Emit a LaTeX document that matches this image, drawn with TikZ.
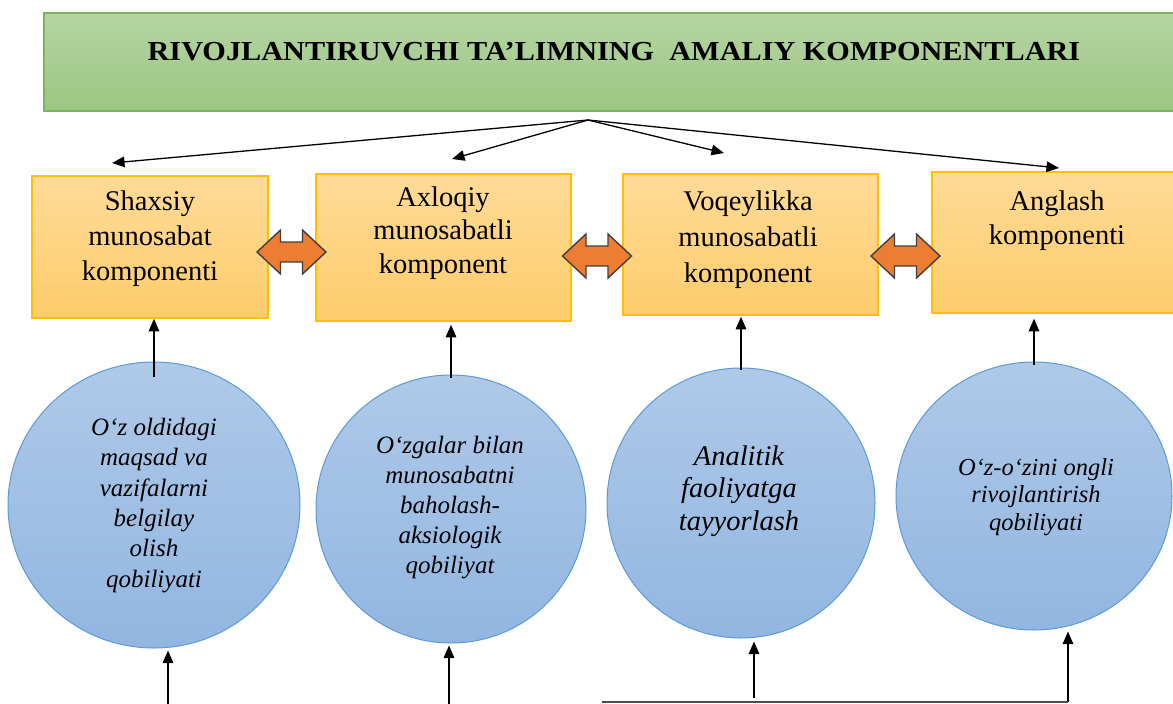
\documentclass[tikz,border=0pt]{standalone}
\usepackage{fontspec}
\usepackage{graphicx}
\setmainfont{Liberation Serif}
\usetikzlibrary{arrows.meta,shapes.geometric}
\definecolor{titletop}{HTML}{B5D5A3}
\definecolor{titlebot}{HTML}{9BC682}
\definecolor{titleline}{HTML}{7DB55C}
\definecolor{boxtop}{HTML}{FFDB98}
\definecolor{boxbot}{HTML}{FDCC6B}
\definecolor{boxline}{HTML}{FFC000}
\definecolor{elltop}{HTML}{AFC9E8}
\definecolor{ellbot}{HTML}{92B6E1}
\definecolor{ellline}{HTML}{5B9BD5}
\definecolor{dblfill}{HTML}{ED7D31}
\definecolor{dblline}{HTML}{404040}
\begin{document}
\begin{tikzpicture}[x=1pt,y=-1pt,
  titlebox/.style={draw=titleline, line width=1.5pt, top color=titletop, bottom color=titlebot, inner sep=0pt},
  compbox/.style={draw=boxline, line width=1.5pt, top color=boxtop, bottom color=boxbot, inner sep=0pt},
  circ/.style={ellipse, draw=ellline, line width=1pt, top color=elltop, bottom color=ellbot, inner sep=0pt},
  boxtext/.style={align=center, inner sep=0pt, anchor=base, font=\fontsize{28.5}{35}\selectfont},
  circtext/.style={align=center, inner sep=0pt, anchor=base, font=\itshape\fontsize{25}{30.3}\selectfont},
  arr/.style={-{Triangle[length=12.5pt,width=10.5pt]}, line width=1.3pt, black},
  dbl/.style={fill=dblfill, draw=dblline, line width=1.4pt, line join=miter}
]
\clip (0,0) rectangle (1173,704);
\useasboundingbox (0,0) rectangle (1173,704);

% title
\node[titlebox, minimum width=1150, minimum height=98] (title) at (619,62) {};
\node[anchor=base, inner sep=0pt, font=\bfseries\fontsize{27.5}{30}\selectfont] (titletext) at (614,60)
  {\scalebox{1.1}[1]{RIVOJLANTIRUVCHI TA’LIMNING\ \ AMALIY KOMPONENTLARI}};

% component boxes
\node[compbox, minimum width=236, minimum height=142] (b1) at (150,247) {};
\node[compbox, minimum width=255, minimum height=147] (b2) at (443.5,247.5) {};
\node[compbox, minimum width=255, minimum height=141] (b3) at (750.5,244.5) {};
\node[compbox, minimum width=260, minimum height=141] (b4) at (1062,242.5) {};

% (anchor=base of a multi-line node is the baseline of its last line)
\node[boxtext] (t1) at (150,280) {Shaxsiy\\munosabat\\komponenti};
\node[boxtext, font=\fontsize{28.5}{33.5}\selectfont] (t2) at (443,273) {Axloqiy\\munosabatli\\komponent};
\node[boxtext, font=\fontsize{28.5}{36}\selectfont] (t3) at (748,282) {Voqeylikka\\munosabatli\\komponent};
\node[boxtext, font=\fontsize{28.5}{34}\selectfont] (t4) at (1057,244) {Anglash\\komponenti};

% fan arrows
\coordinate (fan) at (588,120);
\coordinate (f1) at (112,163);
\coordinate (f2) at (452,159);
\coordinate (f3) at (724,153);
\coordinate (f4) at (1059,168);
\foreach \i in {1,2,3,4} \draw[arr] (fan) -- (f\i);

% double arrows
\foreach \cx/\cy [count=\k] in {291.5/252, 597/256, 905.5/256} {
  \draw[dbl] (\cx-34.5,\cy) -- (\cx-11,\cy-22) -- (\cx-11,\cy-10) -- (\cx+11,\cy-10) -- (\cx+11,\cy-22)
    -- (\cx+34.5,\cy) -- (\cx+11,\cy+22) -- (\cx+11,\cy+10) -- (\cx-11,\cy+10) -- (\cx-11,\cy+22) -- cycle;
}

% ellipses
\node[circ, minimum width=292, minimum height=286] (e1) at (154,505) {};
\node[circ, minimum width=270, minimum height=268] (e2) at (451,509) {};
\node[circ, minimum width=268, minimum height=270] (e3) at (741,503) {};
\node[circ, minimum width=276, minimum height=268] (e4) at (1034,496) {};

\node[circtext] (c1) at (154,587) {O‘z oldidagi\\maqsad va\\vazifalarni\\belgilay\\olish\\qobiliyati};
\node[circtext, font=\itshape\fontsize{25}{30}\selectfont] (c2) at (450,573) {O‘zgalar bilan\\munosabatni\\baholash-\\aksiologik\\qobiliyat};
\node[circtext, font=\itshape\fontsize{28.5}{32.5}\selectfont] (c3) at (739,530) {Analitik\\faoliyatga\\tayyorlash};
\node[circtext, font=\itshape\fontsize{24.5}{27.5}\selectfont] (c4) at (1036,530) {O‘z-o‘zini ongli\\rivojlantirish\\qobiliyati};

% arrows from ellipses to boxes
\draw[arr] ([yshift=-15pt]e1.north) -- (e1.north |- b1.south) ;
\draw[arr] ([yshift=-3pt]e2.north) -- ([yshift=-3pt]e2.north |- b2.south);
\draw[arr] ([yshift=-2pt]e3.north) -- ([yshift=-1pt]e3.north |- b3.south);
\draw[arr] ([yshift=-3pt]e4.north) -- ([yshift=-5pt]e4.north |- b4.south);

% arrows from below
\coordinate (g1) at (168,706);
\coordinate (g2) at (449,706);
\coordinate (g3) at (754,698);
\coordinate (g4) at (1068,702);
\coordinate (h1) at (602,702);
\draw[arr] (g1) -- ([yshift=-2pt]g1 |- e1.south);
\draw[arr] (g2) -- ([yshift=-2pt]g2 |- e2.south);
\draw[arr] (g3) -- ([yshift=-3pt]g3 |- e3.south);
\draw[arr] (g4) -- ([yshift=-1pt]g4 |- e4.south);
\draw[line width=2pt, black!70] (h1) -- (g4);
\end{tikzpicture}
\end{document}
